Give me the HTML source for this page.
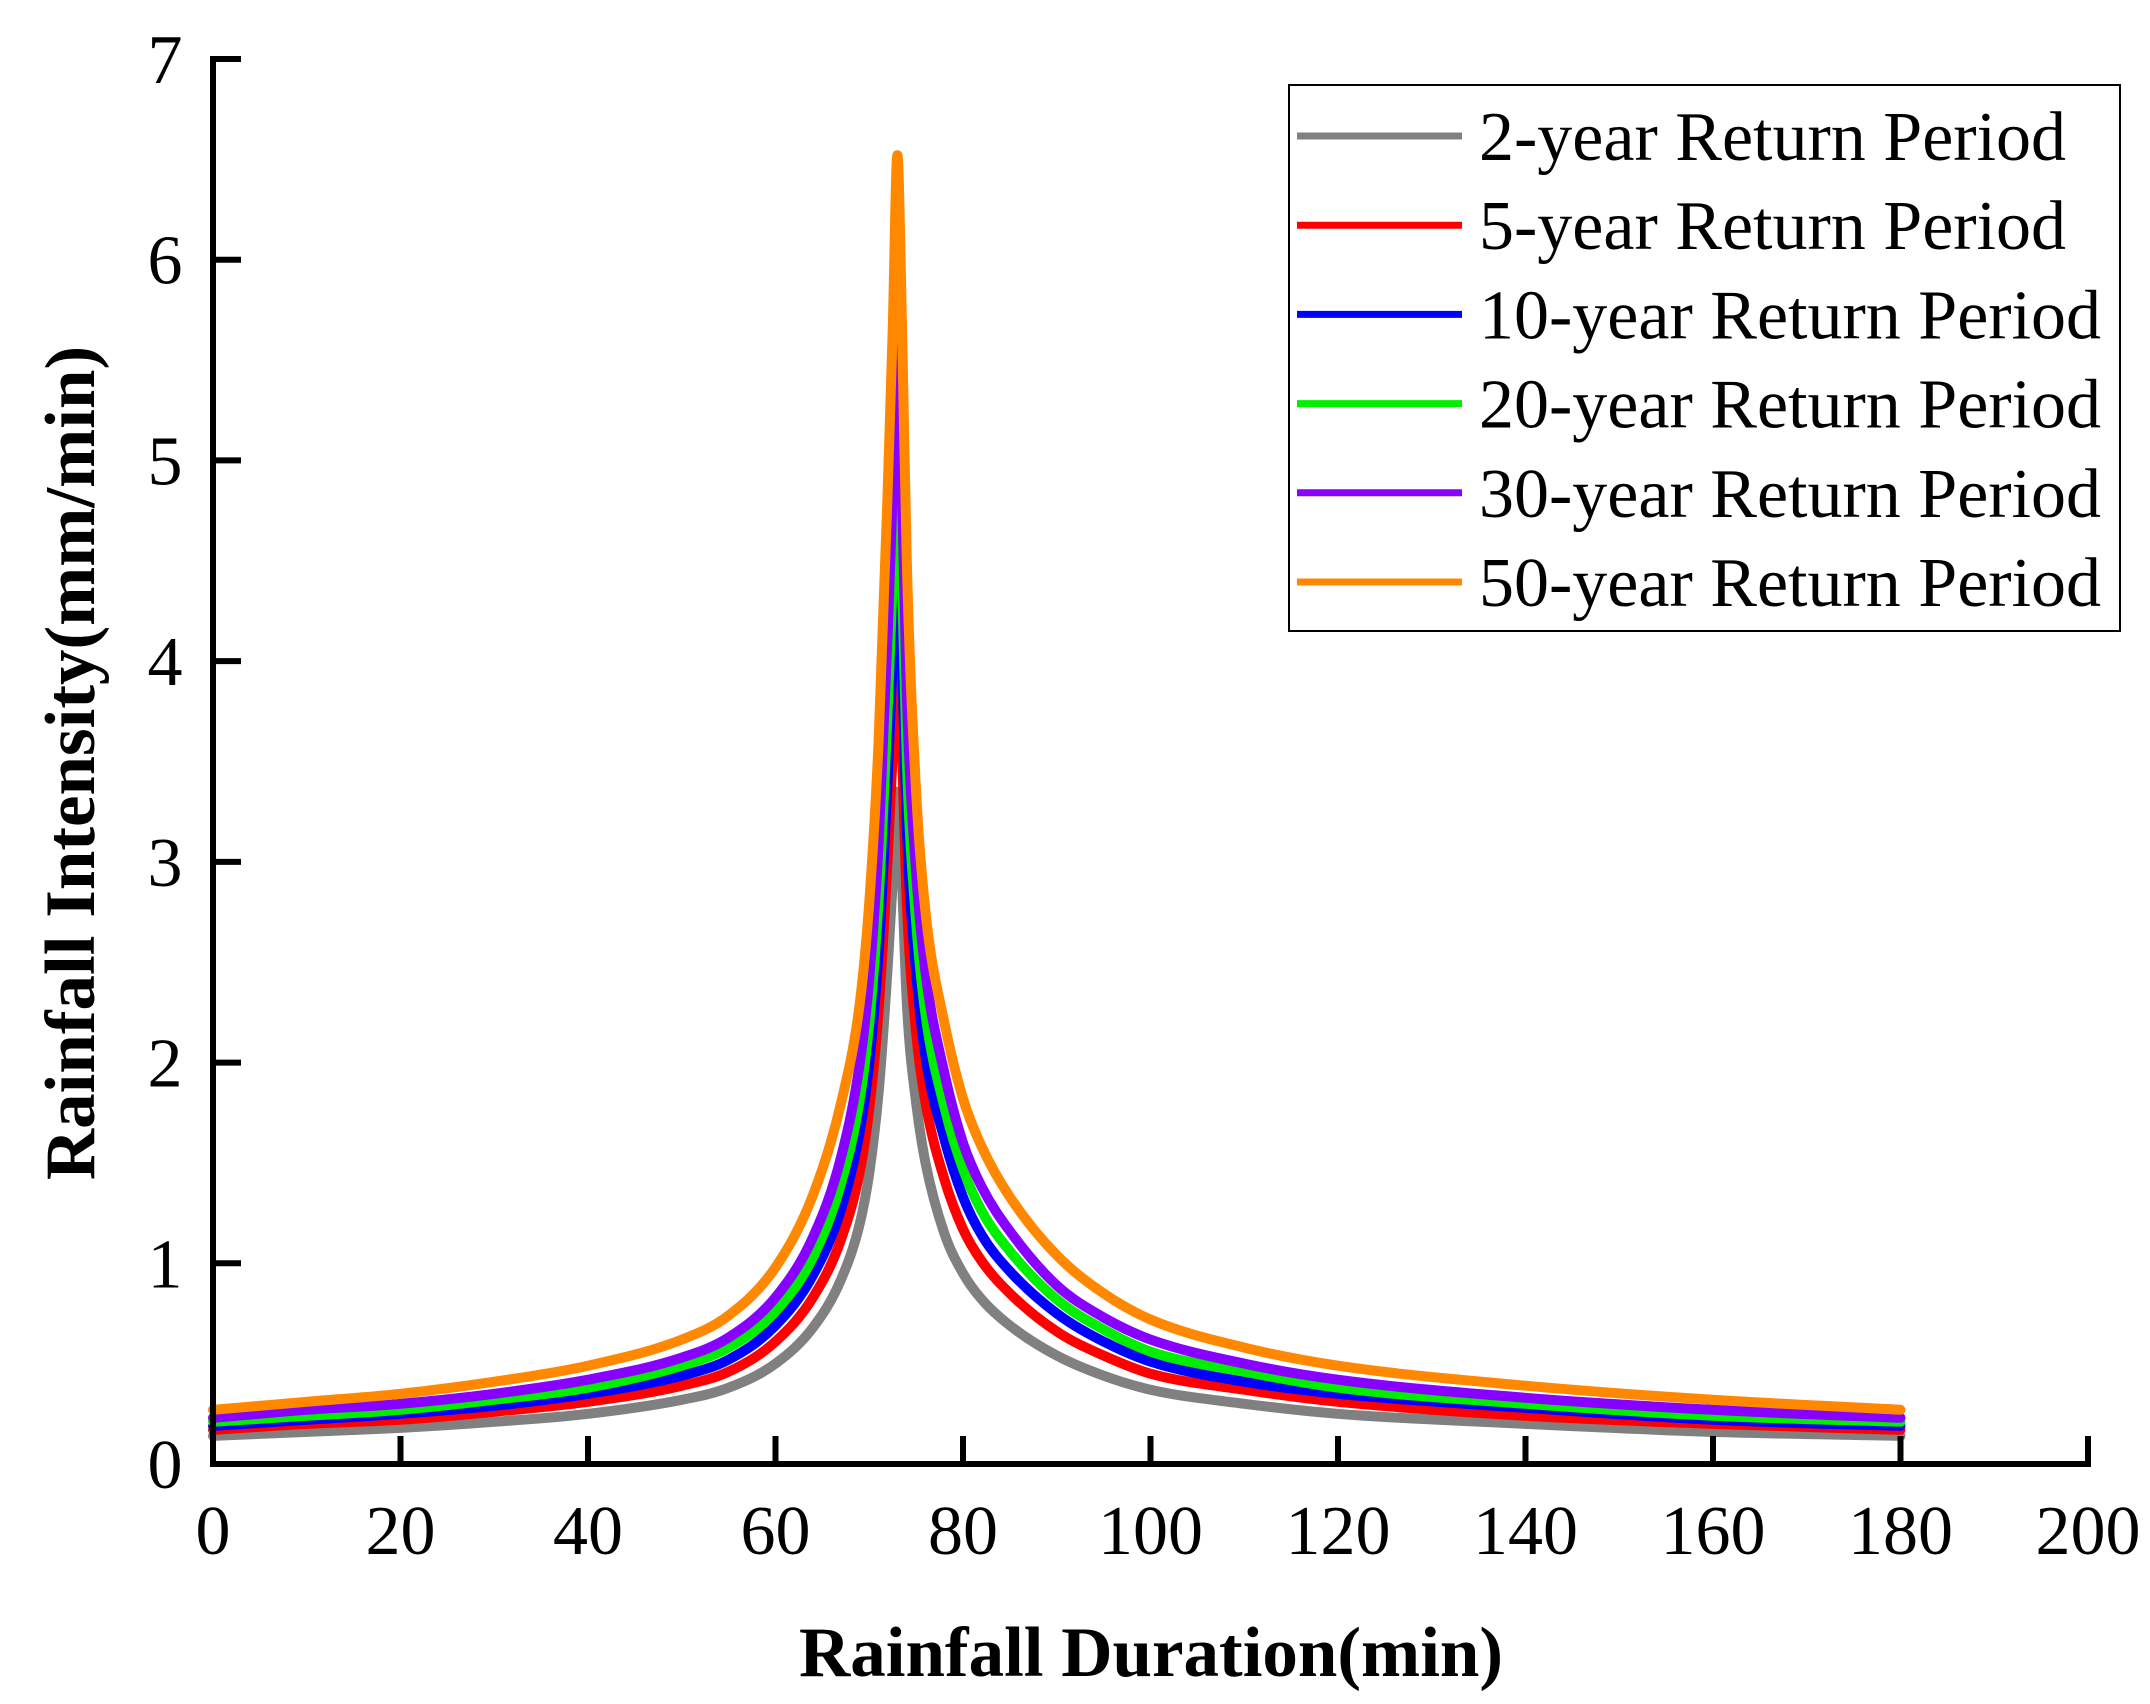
<!DOCTYPE html>
<html><head><meta charset="utf-8">
<style>
html,body{margin:0;padding:0;background:#fff;}
svg text{font-family:"Liberation Serif",serif;}
</style></head>
<body>
<svg id="chart" width="2150" height="1699" viewBox="0 0 2150 1699" xmlns="http://www.w3.org/2000/svg">
<g id="series"></g>
<g id="axes"></g>
<text x="0" y="0" transform="translate(94,763) rotate(-90)" text-anchor="middle" font-size="71" font-weight="bold">Rainfall Intensity(mm/min)</text>
<text x="1151" y="1676" text-anchor="middle" font-size="71" font-weight="bold">Rainfall Duration(min)</text>
<g id="legend"></g>
</svg>
<script>
const times=[0,10,20,30,40,50,55,60,64,67,69,70,71,72,72.5,73,73.5,74,75,76,78,80,82,85,90,95,100,110,120,140,160,180];
const y2=[0.14,0.16,0.18,0.21,0.25,0.32,0.38,0.5,0.68,0.92,1.2,1.45,1.85,2.5,2.9,3.35,2.9,2.3,1.8,1.5,1.15,0.95,0.82,0.69,0.54,0.44,0.37,0.3,0.25,0.2,0.16,0.14];
const y5=[0.17,0.2,0.22,0.26,0.31,0.39,0.46,0.61,0.83,1.12,1.46,1.77,2.26,3.05,3.54,4.1,3.54,2.8,2.15,1.8,1.42,1.17,1.01,0.85,0.66,0.54,0.45,0.37,0.31,0.24,0.2,0.17];
const y10=[0.19,0.22,0.25,0.29,0.35,0.44,0.52,0.69,0.94,1.27,1.66,2.0,2.55,3.45,4.0,4.62,4.0,3.17,2.45,2.03,1.62,1.33,1.14,0.96,0.75,0.61,0.51,0.41,0.35,0.28,0.22,0.19];
const y20=[0.21,0.24,0.27,0.32,0.38,0.49,0.58,0.76,1.03,1.4,1.82,2.2,2.81,3.8,4.4,5.1,4.4,3.5,2.7,2.24,1.78,1.47,1.26,1.06,0.82,0.67,0.56,0.46,0.38,0.3,0.24,0.21];
const y30=[0.23,0.27,0.3,0.35,0.42,0.53,0.63,0.83,1.13,1.53,2.0,2.42,3.09,4.18,4.84,5.6,4.84,3.84,2.95,2.45,1.95,1.6,1.38,1.16,0.89,0.73,0.62,0.5,0.42,0.33,0.27,0.23];
const y50=[0.27,0.31,0.35,0.41,0.49,0.62,0.74,0.98,1.34,1.8,2.3,2.8,3.6,4.9,5.65,6.52,5.65,4.5,3.35,2.75,2.2,1.82,1.58,1.33,1.04,0.85,0.72,0.58,0.49,0.39,0.32,0.27];
const seriesNames=["2-year Return Period","5-year Return Period","10-year Return Period","20-year Return Period","30-year Return Period","50-year Return Period"];
const xTicks=[0,20,40,60,80,100,120,140,160,180,200];
const yTicks=[0,1,2,3,4,5,6,7];

const NS="http://www.w3.org/2000/svg";
const X0=213,X1=2088,Y0=1464,Y1=59;
function sx(v){return X0+(v-0)/(200-0)*(X1-X0);}
function sy(v){return Y0-(v-0)/(7-0)*(Y0-Y1);}
function mk(tag,attrs,parent){const e=document.createElementNS(NS,tag);for(const k in attrs)e.setAttribute(k,attrs[k]);parent.appendChild(e);return e;}

function monoPath(xs,ys){
  const n=xs.length,d=[],m=new Array(n);
  for(let i=0;i<n-1;i++)d.push((ys[i+1]-ys[i])/(xs[i+1]-xs[i]));
  m[0]=d[0];m[n-1]=d[n-2];
  for(let i=1;i<n-1;i++){m[i]=(d[i-1]*d[i]<=0)?0:(d[i-1]+d[i])/2;}
  for(let i=0;i<n-1;i++){
    if(d[i]===0){m[i]=0;m[i+1]=0;continue;}
    const a=m[i]/d[i],b=m[i+1]/d[i],s=a*a+b*b;
    if(s>9){const t=3/Math.sqrt(s);m[i]=t*a*d[i];m[i+1]=t*b*d[i];}
  }
  let p='M'+xs[0].toFixed(1)+','+ys[0].toFixed(1);
  for(let i=0;i<n-1;i++){
    const h=(xs[i+1]-xs[i])/3;
    p+=' C'+(xs[i]+h).toFixed(1)+','+(ys[i]+m[i]*h).toFixed(1)+' '+(xs[i+1]-h).toFixed(1)+','+(ys[i+1]-m[i+1]*h).toFixed(1)+' '+xs[i+1].toFixed(1)+','+ys[i+1].toFixed(1);
  }
  return p;
}

const colors=["#808080","#ff0000","#0000ff","#00ee00","#8800ff","#ff8800"];
const data=[y2,y5,y10,y20,y30,y50];
const sg=document.getElementById('series');
data.forEach((arr,i)=>{
  const d=monoPath(times.map(sx),arr.map(sy));
  const p=mk('path',{d:d,fill:'none',stroke:colors[i],'stroke-width':10,'stroke-linejoin':'round','stroke-linecap':'round'},sg);
  
  
});

const ax=document.getElementById('axes');
const xl=mk('line',{x1:X0,y1:Y0,x2:X1+3,y2:Y0,stroke:'#000','stroke-width':6},ax);


const yl=mk('line',{x1:X0,y1:Y0+3,x2:X0,y2:Y1-3,stroke:'#000','stroke-width':6},ax);


xTicks.forEach(v=>{
  const t=mk('line',{x1:sx(v),y1:Y0,x2:sx(v),y2:Y0-28,stroke:'#000','stroke-width':6},ax);
  
  
  const l=mk('text',{x:sx(v),y:Y0+90,'text-anchor':'middle','font-size':70},ax);
  l.textContent=v;
  
  
});
yTicks.forEach(v=>{
  const t=mk('line',{x1:X0,y1:sy(v),x2:X0+28,y2:sy(v),stroke:'#000','stroke-width':6},ax);
  
  
  const l=mk('text',{x:X0-48,y:sy(v)+24,'text-anchor':'middle','font-size':70},ax);
  l.textContent=v;
  
  
});

const lg=document.getElementById('legend');
const box=mk('rect',{x:1289,y:85,width:831,height:546,fill:'#fff',stroke:'#000','stroke-width':2},lg);


seriesNames.forEach((n,i)=>{
  const yy=136+i*89.2;
  const g=mk('g',{},lg);
  
  
  mk('line',{x1:1297,y1:yy,x2:1462,y2:yy,stroke:colors[i],'stroke-width':7},g);
  const t=mk('text',{x:1479,y:yy+24,'font-size':70},g);
  t.textContent=n;
});
</script>
</body></html>
